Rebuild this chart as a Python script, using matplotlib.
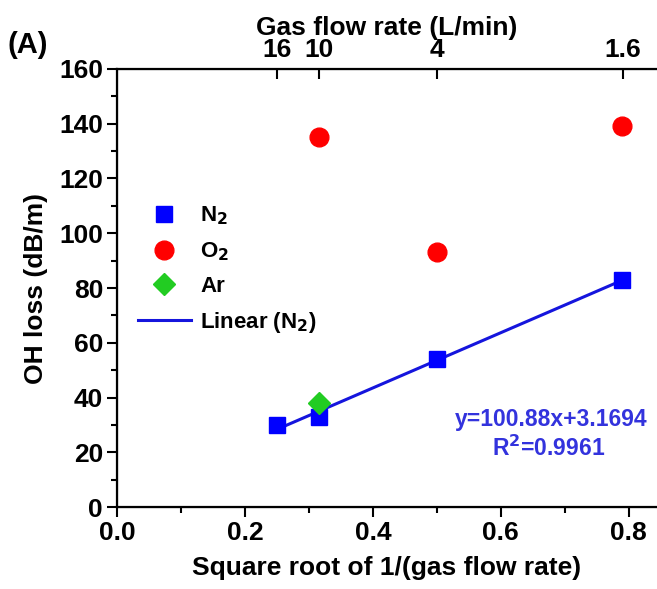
import numpy as np
import matplotlib.pyplot as plt
from matplotlib.ticker import MultipleLocator

plt.rcParams.update({
    'font.family': 'Liberation Sans',
    'font.weight': 'bold',
    'font.size': 19,
})

# data
n2_x = [0.25, 0.316, 0.5, 0.79]
n2_y = [30, 33, 54, 83]
o2_x = [0.316, 0.5, 0.79]
o2_y = [135, 93, 139]
ar_x = [0.316]
ar_y = [38]
fit_slope = 100.88
fit_icpt = 3.1694
fit_r2 = 0.9961
flow_rates = [16, 10, 4, 1.6]
flow_labels = ['16', '10', '4', '1.6']

fig = plt.figure(figsize=(6.57, 5.89), dpi=100)
ax = fig.add_axes([0.178, 0.139, 0.822, 0.744])

ax.plot(n2_x, n2_y, 's', color='#0000ff', markersize=12, label='N$_\\mathbf{2}$', zorder=4)
ax.plot(o2_x, o2_y, 'o', color='#ff0000', markersize=13.5, label='O$_\\mathbf{2}$', zorder=4)
ax.plot(ar_x, ar_y, 'D', color='#22cc22', markersize=11.5, label='Ar', zorder=5)
xf = np.array([min(n2_x), max(n2_x)])
ax.plot(xf, fit_slope * xf + fit_icpt, '-', color='#1515dd', lw=2.2, label='Linear (N$_\\mathbf{2}$)', zorder=3)

ax.set_xlim(0, 0.844)
ax.set_ylim(0, 160)
ax.xaxis.set_major_locator(MultipleLocator(0.2))
ax.xaxis.set_minor_locator(MultipleLocator(0.1))
ax.yaxis.set_major_locator(MultipleLocator(20))
ax.yaxis.set_minor_locator(MultipleLocator(10))
ax.xaxis.set_major_formatter(plt.FuncFormatter(lambda v, p: f'{v:.1f}'))
ax.tick_params(which='major', direction='out', length=7, width=1.5, labelsize=19, pad=3)
ax.tick_params(which='minor', direction='out', length=4, width=1.5)
ax.spines['right'].set_visible(False)
for s in ['left', 'bottom', 'top']:
    ax.spines[s].set_linewidth(1.6)

ax.set_xlabel('Square root of 1/(gas flow rate)', fontsize=19, fontweight='bold', labelpad=8)
ax.set_ylabel('OH loss (dB/m)', fontsize=19, fontweight='bold', labelpad=8)

top = ax.twiny()
top.set_xlim(ax.get_xlim())
top.set_xticks(np.sqrt(1 / np.array(flow_rates)))
top.set_xticklabels(flow_labels)
top.tick_params(direction='in', length=7, width=1.5, labelsize=19, pad=5)
top.spines['right'].set_visible(False)
top.set_xlabel('Gas flow rate (L/min)', fontsize=19, fontweight='bold', labelpad=2)

ax.text(0.983, 0.199, f'y={fit_slope}x+{fit_icpt}', transform=ax.transAxes,
        ha='right', va='center', color='#3333dd', fontsize=16.5, fontweight='bold')
ax.text(0.80, 0.135, f'R$^\\mathbf{{2}}$={fit_r2}', transform=ax.transAxes,
        ha='center', va='center', color='#3333dd', fontsize=16.5, fontweight='bold')

ax.legend(loc='upper left', bbox_to_anchor=(0.022, 0.71), frameon=False,
          fontsize=16, handlelength=2.4, labelspacing=0.58, handletextpad=0.4,
          borderaxespad=0.0)

fig.text(0.012, 0.924, '(A)', fontsize=21, fontweight='bold', va='center')

fig.savefig('out.png', dpi=100)
